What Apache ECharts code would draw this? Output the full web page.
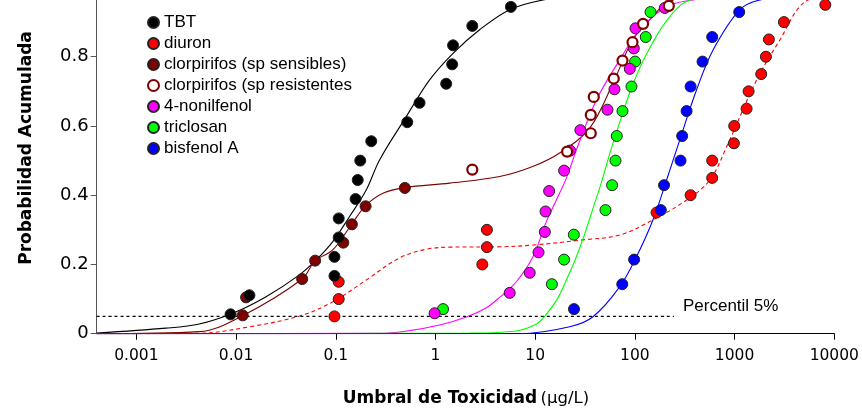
<!DOCTYPE html>
<html>
<head>
<meta charset="utf-8">
<script src="https://cdn.jsdelivr.net/npm/echarts@6.0.0/dist/echarts.min.js"></script>
<style>
html, body { margin: 0; padding: 0; background: #fff; }
#box { width: 862px; height: 409px; }
</style>
</head>
<body>
<div id="box"></div>
<script>
// puntos observados (umbral en ug/L, probabilidad acumulada)
var tbtX = [0.0088, 0.0136, 0.097, 0.097, 0.107, 0.107, 0.158, 0.166, 0.176, 0.227, 0.521, 0.692, 1.28, 1.47, 1.50, 2.34, 5.71];
var tbtY = [0.056, 0.111, 0.167, 0.222, 0.278, 0.333, 0.389, 0.444, 0.5, 0.556, 0.611, 0.667, 0.722, 0.778, 0.833, 0.889, 0.944];

var diuronX = [0.097, 0.107, 0.107, 2.95, 3.28, 3.28, 165, 362, 596, 596, 984, 991, 1319, 1382, 1849, 2061, 2208, 3126, 8128];
var diuronY = [0.05, 0.1, 0.15, 0.2, 0.25, 0.3, 0.35, 0.4, 0.45, 0.5, 0.55, 0.6, 0.65, 0.7, 0.75, 0.8, 0.85, 0.9, 0.95];

var clorSensX = [0.01165, 0.0126, 0.046, 0.0621, 0.119, 0.145, 0.199, 0.493];
var clorSensY = [0.053, 0.105, 0.158, 0.211, 0.263, 0.316, 0.368, 0.421];

var clorResX = [2.34, 20.9, 36.1, 36.1, 38.7, 61.4, 75.1, 94.6, 120.8, 219];
var clorResY = [0.474, 0.526, 0.579, 0.632, 0.684, 0.737, 0.789, 0.842, 0.895, 0.947];

var nonilX = [0.98, 5.55, 8.81, 10.8, 12.5, 12.7, 13.8, 19.5, 22.4, 28.4, 53.1, 62.4, 88.9, 97.5, 101.4, 199.6];
var nonilY = [0.059, 0.118, 0.176, 0.235, 0.294, 0.353, 0.412, 0.471, 0.529, 0.588, 0.647, 0.706, 0.765, 0.824, 0.882, 0.941];

var triclosanX = [1.19, 14.7, 19.5, 24.4, 50.7, 59.1, 63.9, 65.8, 75.1, 92.4, 100.5, 128.5, 143.5];
var triclosanY = [0.071, 0.143, 0.214, 0.286, 0.357, 0.429, 0.5, 0.571, 0.643, 0.714, 0.786, 0.857, 0.929];

var bisfenolX = [24.5, 74.7, 98.2, 182, 196, 287, 298, 330, 362, 477, 596, 1112];
var bisfenolY = [0.071, 0.143, 0.214, 0.357, 0.429, 0.5, 0.571, 0.643, 0.714, 0.786, 0.857, 0.929];

// curvas ajustadas
var tbtFitX = [0.0004, 0.00198, 0.00428, 0.00925, 0.02, 0.0432, 0.0636, 0.0933, 0.137, 0.202, 0.275, 0.509, 0.873, 1.5, 2.77, 5.55, 12, 44.5, 449, 10000];
var tbtFitY = [0.002, 0.016, 0.028, 0.059, 0.107, 0.17, 0.213, 0.266, 0.338, 0.415, 0.502, 0.627, 0.733, 0.81, 0.878, 0.936, 0.964, 0.988, 0.999, 1];

var clorFitX = [0.0004, 0.00429, 0.01165, 0.046, 0.0621, 0.0933, 0.145, 0.199, 0.297, 0.49, 1.39, 4.4, 9.44, 17.6, 35.2, 60.4, 95.3, 151, 208, 449, 10000];
var clorFitY = [0, 0.006, 0.052, 0.158, 0.211, 0.242, 0.317, 0.37, 0.406, 0.422, 0.435, 0.454, 0.483, 0.522, 0.594, 0.724, 0.849, 0.916, 0.955, 0.985, 1];

var diuronFitX = [0.0004, 0.00428, 0.0136, 0.0432, 0.0933, 0.202, 0.436, 0.809, 1.39, 4.4, 9.44, 30, 70.6, 152, 330, 565, 832, 1663, 2851, 4883, 10000];
var diuronFitY = [0, 0.001, 0.02, 0.051, 0.092, 0.155, 0.219, 0.244, 0.25, 0.251, 0.256, 0.271, 0.285, 0.329, 0.386, 0.444, 0.54, 0.733, 0.849, 0.955, 0.987];

var nonilFitX = [0.0004, 0.275, 0.55, 1.1, 2.04, 3.24, 4.4, 6.47, 9.5, 12.9, 16.3, 20.6, 25.9, 41.1, 70.5, 112, 208, 381, 1425, 10000];
var nonilFitY = [0, 0.001, 0.009, 0.025, 0.048, 0.075, 0.105, 0.15, 0.222, 0.323, 0.386, 0.45, 0.531, 0.675, 0.791, 0.878, 0.945, 0.964, 0.99, 1];

var triclosanFitX = [0.0004, 2.2, 6.47, 10.3, 12.5, 16.4, 20.2, 24.9, 30.7, 37.8, 46.5, 57.3, 72.2, 95.3, 132, 209, 332, 1000, 10000];
var triclosanFitY = [0, 0.002, 0.008, 0.028, 0.051, 0.097, 0.15, 0.21, 0.28, 0.36, 0.44, 0.53, 0.62, 0.72, 0.81, 0.905, 0.96, 0.995, 1];

var bisfenolFitX = [0.0004, 6.99, 22.2, 38, 70.6, 104, 152, 208, 282, 415, 610, 1130, 1795, 10000];
var bisfenolFitY = [0, 0, 0.02, 0.049, 0.136, 0.223, 0.329, 0.444, 0.56, 0.704, 0.82, 0.936, 0.964, 1];

var percentilX = [0.0004, 246];
var percentilY = [0.05, 0.05];

var names = ['TBT', 'diuron', 'clorpirifos (sp sensibles)', 'clorpirifos (sp resistentes', '4-nonilfenol', 'triclosan', 'bisfenol A'];

function zip(xs, ys) {
    return xs.map(function (x, i) { return [x, ys[i]]; });
}

function puntos(name, xs, ys, color, z) {
    return {
        name: name,
        type: 'scatter',
        data: zip(xs, ys),
        symbol: 'circle',
        symbolSize: 11,
        z: z,
        itemStyle: { color: color, borderColor: '#222', borderWidth: 1, opacity: 1 }
    };
}

function curva(name, xs, ys, color, dash) {
    return {
        name: name,
        type: 'line',
        data: zip(xs, ys),
        showSymbol: false,
        smooth: 0.35,
        z: 1,
        silent: true,
        lineStyle: { color: color, width: 1.1, type: dash || 'solid' }
    };
}

var dom = document.getElementById('box');
var myChart = echarts.init(dom);

var option = {
    animation: false,
    backgroundColor: '#fff',
    grid: { left: 96.7, right: 27.7, top: -12.5, bottom: 75.3, outerBoundsMode: 'none' },
    legend: {
        orient: 'vertical',
        left: 147,
        top: 14,
        padding: 0,
        itemWidth: 11,
        itemHeight: 11,
        itemGap: 4,
        icon: 'circle',
        data: names,
        textStyle: { fontFamily: 'Liberation Sans', fontSize: 17, color: '#000', lineHeight: 17 }
    },
    xAxis: {
        type: 'log',
        logBase: 10,
        min: 0.0004,
        max: 10000,
        splitLine: { show: false },
        axisLine: { lineStyle: { color: '#000', width: 1 } },
        axisTick: { length: 6, lineStyle: { color: '#000' } },
        axisLabel: {
            fontFamily: 'DejaVu Sans',
            fontSize: 15.5,
            color: '#000',
            margin: 14,
            showMinLabel: false,
            formatter: function (v) {
                var l = Math.log10(v);
                if (Math.abs(l - Math.round(l)) > 1e-6) return '';
                return String(+Math.pow(10, Math.round(l)).toPrecision(3));
            }
        }
    },
    yAxis: {
        type: 'value',
        min: 0,
        max: 1,
        interval: 0.2,
        splitLine: { show: false },
        axisLine: { show: true, lineStyle: { color: '#555', width: 1 } },
        axisTick: { show: true, length: 6, lineStyle: { color: '#555' } },
        axisLabel: { fontFamily: 'DejaVu Sans', fontSize: 18, color: '#000', margin: 8 }
    },
    graphic: [
        {
            type: 'text',
            x: 27, y: 148,
            rotation: Math.PI / 2,
            style: {
                text: 'Probabilidad Acumulada',
                font: 'bold 17px "DejaVu Sans"',
                fill: '#000',
                align: 'center',
                verticalAlign: 'middle'
            }
        },
        {
            type: 'text',
            x: 466, y: 399,
            style: {
                text: '{b|Umbral de Toxicidad} {n|(µg/L)}',
                align: 'center',
                verticalAlign: 'middle',
                rich: {
                    b: { fontFamily: 'DejaVu Sans', fontWeight: 'bold', fontSize: 17, fill: '#000' },
                    n: { fontFamily: 'DejaVu Sans', fontSize: 16.5, fill: '#000' }
                }
            }
        },
        {
            type: 'text',
            x: 683, y: 306,
            style: {
                text: 'Percentil 5%',
                font: '17px "Liberation Sans"',
                fill: '#000',
                verticalAlign: 'middle'
            }
        }
    ],
    series: [
        curva('fit TBT', tbtFitX, tbtFitY, '#000'),
        curva('fit diuron', diuronFitX, diuronFitY, '#ff0000', [4, 3]),
        curva('fit clorpirifos', clorFitX, clorFitY, '#800000'),
        curva('fit 4-nonilfenol', nonilFitX, nonilFitY, '#ff00ff'),
        curva('fit triclosan', triclosanFitX, triclosanFitY, '#00ff00'),
        curva('fit bisfenol A', bisfenolFitX, bisfenolFitY, '#0000ff'),
        curva('percentil', percentilX, percentilY, '#000', [3, 3]),
        puntos(names[1], diuronX, diuronY, '#ff0000', 3),
        puntos(names[2], clorSensX, clorSensY, '#800000', 4),
        puntos(names[0], tbtX, tbtY, '#000', 5),
        puntos(names[5], triclosanX, triclosanY, '#00ff00', 6),
        puntos(names[4], nonilX, nonilY, '#ff00ff', 7),
        {
            name: names[3],
            type: 'scatter',
            data: zip(clorResX, clorResY),
            symbol: 'circle',
            symbolSize: 10,
            z: 8,
            itemStyle: { color: '#fff', borderColor: '#800000', borderWidth: 2.2, opacity: 1 }
        },
        puntos(names[6], bisfenolX, bisfenolY, '#0000ff', 9)
    ]
};

myChart.setOption(option);
</script>
</body>
</html>
